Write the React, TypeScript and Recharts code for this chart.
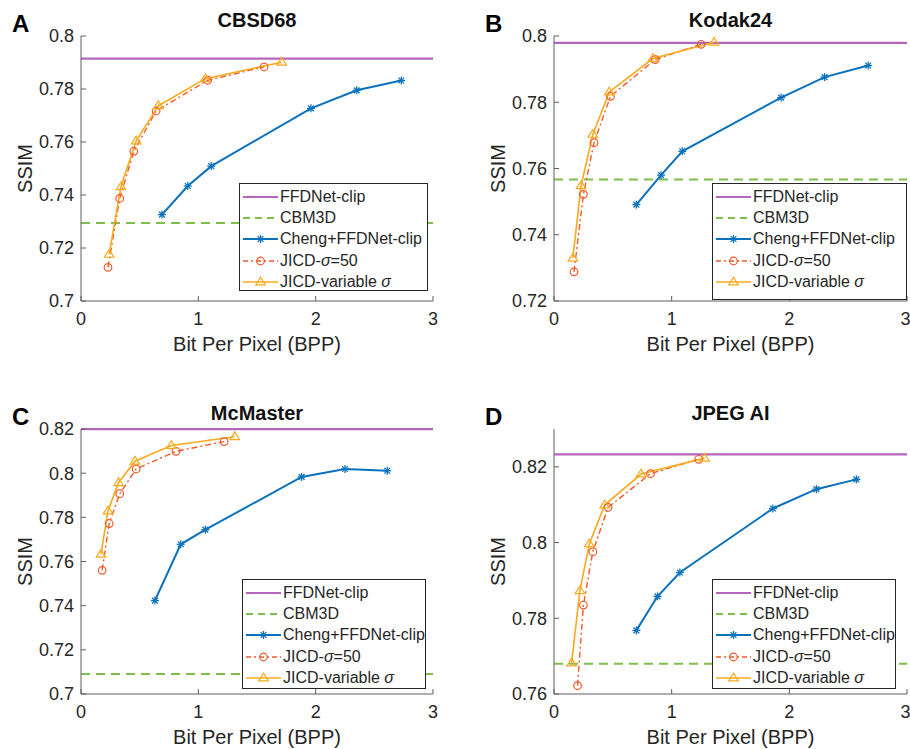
import { LineChart, Line, XAxis, YAxis, Legend } from "recharts";

const FONT = '"Liberation Sans", Arial, Helvetica, sans-serif';
const AXIS = "#5e5e5e";
const INK = "#262626";

const PURPLE = "#B466BE";
const GREEN = "#7DBF4B";
const BLUE = "#0A72BD";
const RED = "#F15A2B";
const ORANGE = "#F8AA1C";

// CBSD68
const cbsdFfd = 0.7915;
const cbsdCbm3d = 0.7294;
const cbsdChengBpp = [0.69, 0.91, 1.11, 1.96, 2.35, 2.73];
const cbsdChengSsim = [0.7326, 0.7434, 0.7509, 0.7727, 0.7795, 0.7832];
const cbsdJ50Bpp = [0.23, 0.33, 0.45, 0.64, 1.08, 1.56];
const cbsdJ50Ssim = [0.7127, 0.7387, 0.7565, 0.7717, 0.7833, 0.7883];
const cbsdVarBpp = [0.24, 0.34, 0.47, 0.66, 1.06, 1.71];
const cbsdVarSsim = [0.7176, 0.7431, 0.7604, 0.7737, 0.7839, 0.7901];

// Kodak24
const kodakFfd = 0.7979;
const kodakCbm3d = 0.7567;
const kodakChengBpp = [0.7, 0.91, 1.09, 1.93, 2.3, 2.67];
const kodakChengSsim = [0.7491, 0.758, 0.7652, 0.7814, 0.7876, 0.7911];
const kodakJ50Bpp = [0.17, 0.25, 0.34, 0.48, 0.86, 1.25];
const kodakJ50Ssim = [0.7288, 0.7522, 0.7678, 0.7818, 0.7929, 0.7975];
const kodakVarBpp = [0.16, 0.23, 0.33, 0.47, 0.84, 1.36];
const kodakVarSsim = [0.7329, 0.7548, 0.7703, 0.7831, 0.7932, 0.7981];

// McMaster
const mcmFfd = 0.8199;
const mcmCbm3d = 0.7091;
const mcmChengBpp = [0.63, 0.85, 1.06, 1.88, 2.25, 2.61];
const mcmChengSsim = [0.7423, 0.7678, 0.7744, 0.7983, 0.8019, 0.8011];
const mcmJ50Bpp = [0.18, 0.24, 0.33, 0.47, 0.81, 1.22];
const mcmJ50Ssim = [0.756, 0.7772, 0.7907, 0.8019, 0.8099, 0.8143];
const mcmVarBpp = [0.17, 0.23, 0.32, 0.46, 0.77, 1.31];
const mcmVarSsim = [0.7633, 0.7829, 0.7957, 0.8054, 0.8125, 0.8165];

// JPEG AI
const jpegFfd = 0.8233;
const jpegCbm3d = 0.768;
const jpegChengBpp = [0.7, 0.88, 1.07, 1.86, 2.23, 2.57];
const jpegChengSsim = [0.7768, 0.7858, 0.7921, 0.809, 0.8141, 0.8167];
const jpegJ50Bpp = [0.2, 0.25, 0.33, 0.46, 0.82, 1.23];
const jpegJ50Ssim = [0.7622, 0.7835, 0.7976, 0.8093, 0.8182, 0.822];
const jpegVarBpp = [0.15, 0.22, 0.3, 0.43, 0.74, 1.28];
const jpegVarSsim = [0.7682, 0.7873, 0.7996, 0.8099, 0.8181, 0.8223];

const xTicks = [0, 1, 2, 3];

const pts = (xs: number[], ys: number[]) => xs.map((x, i) => ({ x, y: ys[i] }));
const flat = (v: number) => [
  { x: 0, y: v },
  { x: 3, y: v },
];

function Star({ cx, cy, color }: any) {
  const r = 4;
  const d = r * 0.72;
  return (
    <g stroke={color} strokeWidth={1.3}>
      <line x1={cx - r} y1={cy} x2={cx + r} y2={cy} />
      <line x1={cx} y1={cy - r} x2={cx} y2={cy + r} />
      <line x1={cx - d} y1={cy - d} x2={cx + d} y2={cy + d} />
      <line x1={cx - d} y1={cy + d} x2={cx + d} y2={cy - d} />
    </g>
  );
}

function Ring({ cx, cy, color }: any) {
  return <circle cx={cx} cy={cy} r={3.8} fill="none" stroke={color} strokeWidth={1.2} />;
}

function Tri({ cx, cy, color }: any) {
  const r = 4.8;
  return (
    <polygon
      points={`${cx},${cy - r} ${cx - r},${cy + r * 0.6} ${cx + r},${cy + r * 0.6}`}
      fill="none"
      stroke={color}
      strokeWidth={1.2}
    />
  );
}

const starDot = (p: any) => <Star key={`s${p.index}`} cx={p.cx} cy={p.cy} color={BLUE} />;
const ringDot = (p: any) => <Ring key={`r${p.index}`} cx={p.cx} cy={p.cy} color={RED} />;
const triDot = (p: any) => <Tri key={`t${p.index}`} cx={p.cx} cy={p.cy} color={ORANGE} />;

const legendRows = [
  { label: <>FFDNet-clip</>, color: PURPLE, dash: undefined, w: 2.2, mark: null },
  { label: <>CBM3D</>, color: GREEN, dash: "7 5", w: 2, mark: null },
  { label: <>Cheng+FFDNet-clip</>, color: BLUE, dash: undefined, w: 2, mark: Star },
  {
    label: (
      <>
        JICD-<span style={{ fontStyle: "italic" }}>σ</span>=50
      </>
    ),
    color: RED,
    dash: "5 3 2 3",
    w: 1.4,
    mark: Ring,
  },
  {
    label: (
      <>
        JICD-variable <span style={{ fontStyle: "italic" }}>σ</span>
      </>
    ),
    color: ORANGE,
    dash: undefined,
    w: 1.6,
    mark: Tri,
  },
];

function LegendBox({ w, h }: { w: number; h: number }) {
  return (
    <div
      style={{
        width: w,
        height: h,
        boxSizing: "border-box",
        border: `1px solid ${INK}`,
        background: "#fff",
        paddingTop: 2,
        fontFamily: FONT,
        fontSize: 16,
        color: INK,
      }}
    >
      {legendRows.map((r, i) => {
        const M = r.mark as any;
        return (
          <div key={i} style={{ height: 21.3, display: "flex", alignItems: "center", whiteSpace: "nowrap" }}>
            <svg width={35} height={14} style={{ marginLeft: 3, marginRight: 2, flexShrink: 0 }}>
              <line x1={0} y1={7} x2={35} y2={7} stroke={r.color} strokeWidth={r.w} strokeDasharray={r.dash} />
              {M ? <M cx={17.5} cy={7} color={r.color} /> : null}
            </svg>
            <span>{r.label}</span>
          </div>
        );
      })}
    </div>
  );
}

const panels = [
  {
    letter: "A",
    title: "CBSD68",
    left: 0,
    top: 0,
    width: 455,
    plotL: 81,
    plotR: 433,
    domain: [0.7, 0.8],
    yTicks: [0.7, 0.72, 0.74, 0.76, 0.78, 0.8],
    ffd: cbsdFfd,
    cbm: cbsdCbm3d,
    cheng: pts(cbsdChengBpp, cbsdChengSsim),
    j50: pts(cbsdJ50Bpp, cbsdJ50Ssim),
    jvar: pts(cbsdVarBpp, cbsdVarSsim),
    legend: { left: 239, top: 183, w: 189, h: 108 },
  },
  {
    letter: "B",
    title: "Kodak24",
    left: 470,
    top: 0,
    width: 440,
    plotL: 84,
    plotR: 437,
    domain: [0.72, 0.8],
    yTicks: [0.72, 0.74, 0.76, 0.78, 0.8],
    ffd: kodakFfd,
    cbm: kodakCbm3d,
    cheng: pts(kodakChengBpp, kodakChengSsim),
    j50: pts(kodakJ50Bpp, kodakJ50Ssim),
    jvar: pts(kodakVarBpp, kodakVarSsim),
    legend: { left: 242, top: 183, w: 195, h: 117 },
  },
  {
    letter: "C",
    title: "McMaster",
    left: 0,
    top: 393,
    width: 455,
    plotL: 81,
    plotR: 433,
    domain: [0.7, 0.82],
    yTicks: [0.7, 0.72, 0.74, 0.76, 0.78, 0.8, 0.82],
    ffd: mcmFfd,
    cbm: mcmCbm3d,
    cheng: pts(mcmChengBpp, mcmChengSsim),
    j50: pts(mcmJ50Bpp, mcmJ50Ssim),
    jvar: pts(mcmVarBpp, mcmVarSsim),
    legend: { left: 242, top: 186, w: 184, h: 110 },
  },
  {
    letter: "D",
    title: "JPEG AI",
    left: 470,
    top: 393,
    width: 440,
    plotL: 84,
    plotR: 437,
    domain: [0.76, 0.83],
    yTicks: [0.76, 0.78, 0.8, 0.82],
    ffd: jpegFfd,
    cbm: jpegCbm3d,
    cheng: pts(jpegChengBpp, jpegChengSsim),
    j50: pts(jpegJ50Bpp, jpegJ50Ssim),
    jvar: pts(jpegVarBpp, jpegVarSsim),
    legend: { left: 242, top: 186, w: 184, h: 110 },
  },
];

const H = 370;
const PLOT_TOP = 36;
const PLOT_BOTTOM = 301;
const X_AXIS_H = 30;
const Y_AXIS_W = 60;

const tickStyle = { fill: INK, fontSize: 18, fontFamily: FONT };

function Panel({ p }: { p: (typeof panels)[number] }) {
  const cx = (p.plotL + p.plotR) / 2;
  const cy = (PLOT_TOP + PLOT_BOTTOM) / 2;
  const yl = p.plotL - 56;
  return (
    <div style={{ position: "absolute", left: p.left, top: p.top }}>
      <LineChart
        width={p.width}
        height={H}
        margin={{
          top: PLOT_TOP,
          left: p.plotL - Y_AXIS_W,
          right: p.width - p.plotR,
          bottom: H - PLOT_BOTTOM - X_AXIS_H,
        }}
      >
        <XAxis
          type="number"
          dataKey="x"
          domain={[0, 3]}
          ticks={xTicks}
          height={X_AXIS_H}
          tickSize={-5}
          tickMargin={16}
          axisLine={{ stroke: AXIS }}
          tickLine={{ stroke: AXIS }}
          tick={tickStyle}
          allowDuplicatedCategory={false}
        />
        <YAxis
          type="number"
          dataKey="y"
          domain={p.domain}
          ticks={p.yTicks}
          width={Y_AXIS_W}
          tickSize={-5}
          tickMargin={12}
          axisLine={{ stroke: AXIS }}
          tickLine={{ stroke: AXIS }}
          tick={tickStyle}
          tickFormatter={(v: number) => String(+v.toFixed(2))}
        />
        <Line data={flat(p.ffd)} dataKey="y" stroke={PURPLE} strokeWidth={2.2} dot={false} isAnimationActive={false} />
        <Line
          data={flat(p.cbm)}
          dataKey="y"
          stroke={GREEN}
          strokeWidth={2}
          strokeDasharray="9 6"
          dot={false}
          isAnimationActive={false}
        />
        <Line data={p.cheng} dataKey="y" stroke={BLUE} strokeWidth={2} dot={starDot} isAnimationActive={false} />
        <Line
          data={p.j50}
          dataKey="y"
          stroke={RED}
          strokeWidth={1.4}
          strokeDasharray="6 3 2 3"
          dot={ringDot}
          isAnimationActive={false}
        />
        <Line data={p.jvar} dataKey="y" stroke={ORANGE} strokeWidth={1.6} dot={triDot} isAnimationActive={false} />
        <Legend
          layout="vertical"
          align="center"
          verticalAlign="middle"
          wrapperStyle={{ left: p.legend.left, top: p.legend.top, width: p.legend.w, height: p.legend.h }}
          content={() => <LegendBox w={p.legend.w} h={p.legend.h} />}
        />
        <text x={cx} y={PLOT_TOP - 9} textAnchor="middle" fontFamily={FONT} fontWeight="bold" fontSize={20} fill="#111">
          {p.title}
        </text>
        <text
          x={yl}
          y={cy}
          textAnchor="middle"
          dominantBaseline="central"
          transform={`rotate(-90 ${yl} ${cy})`}
          fontFamily={FONT}
          fontSize={20}
          fill={INK}
        >
          SSIM
        </text>
        <text x={cx} y={PLOT_BOTTOM + 50} textAnchor="middle" fontFamily={FONT} fontSize={20} fill={INK}>
          Bit Per Pixel (BPP)
        </text>
      </LineChart>
      <div
        style={{
          position: "absolute",
          left: p.left === 0 ? 12 : 15,
          top: 9,
          fontFamily: FONT,
          fontWeight: "bold",
          fontSize: 24,
          color: "#000",
          lineHeight: "30px",
        }}
      >
        {p.letter}
      </div>
    </div>
  );
}

export default function App() {
  return (
    <div
      style={{
        position: "absolute",
        left: 0,
        top: 0,
        width: 910,
        height: 749,
        background: "#fff",
        overflow: "hidden",
      }}
    >
      {panels.map((p) => (
        <Panel key={p.letter} p={p} />
      ))}
    </div>
  );
}
